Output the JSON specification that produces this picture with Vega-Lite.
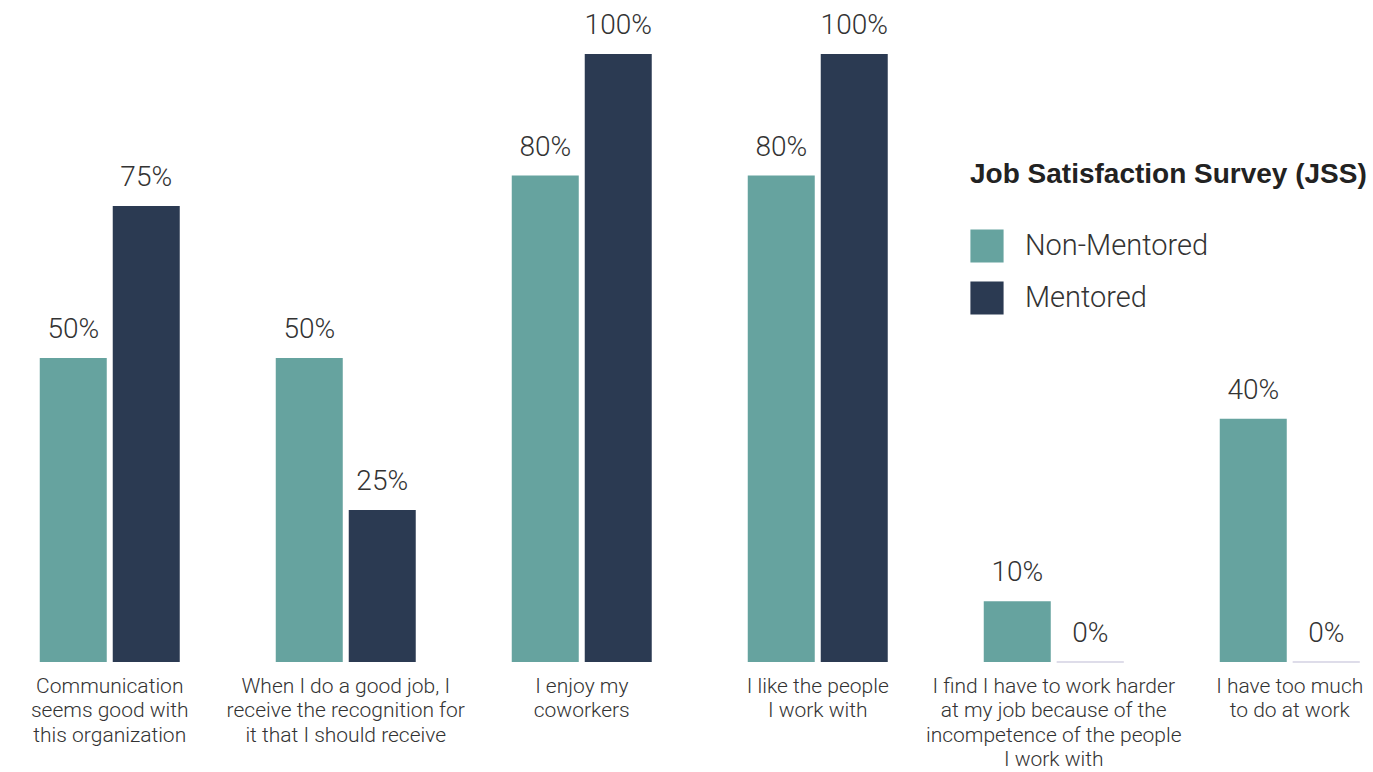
{
  "$schema": "https://vega.github.io/schema/vega-lite/v6.json",
  "width": 1373,
  "height": 608,
  "autosize": {"type": "none"},
  "padding": {"left": 0, "top": 54, "right": 0, "bottom": 110},
  "background": "#ffffff",
  "data": {
    "values": [
      {"item": "Communication|seems good with|this organization", "group": "Non-Mentored", "value": 0.5},
      {"item": "Communication|seems good with|this organization", "group": "Mentored", "value": 0.75},
      {"item": "When I do a good job, I|receive the recognition for|it that I should receive", "group": "Non-Mentored", "value": 0.5},
      {"item": "When I do a good job, I|receive the recognition for|it that I should receive", "group": "Mentored", "value": 0.25},
      {"item": "I enjoy my|coworkers", "group": "Non-Mentored", "value": 0.8},
      {"item": "I enjoy my|coworkers", "group": "Mentored", "value": 1.0},
      {"item": "I like the people|I work with", "group": "Non-Mentored", "value": 0.8},
      {"item": "I like the people|I work with", "group": "Mentored", "value": 1.0},
      {"item": "I find I have to work harder|at my job because of the|incompetence of the people|I work with", "group": "Non-Mentored", "value": 0.1},
      {"item": "I find I have to work harder|at my job because of the|incompetence of the people|I work with", "group": "Mentored", "value": 0.0},
      {"item": "I have too much|to do at work", "group": "Non-Mentored", "value": 0.4},
      {"item": "I have too much|to do at work", "group": "Mentored", "value": 0.0}
    ]
  },
  "encoding": {
    "x": {
      "field": "item",
      "type": "nominal",
      "sort": null,
      "title": null,
      "scale": {"paddingInner": 0.4068, "paddingOuter": 0.1123, "align": 0.75},
      "axis": {
        "labelExpr": "split(datum.label, '|')",
        "labelAngle": 0,
        "labelFont": "Roboto",
        "labelFontWeight": 300,
        "labelFontSize": 21,
        "labelColor": "#333333",
        "labelLineHeight": 24.5,
        "labelPadding": 13,
        "labelLimit": 400,
        "labelBaseline": "top",
        "domain": false,
        "ticks": false,
        "grid": false
      }
    },
    "xOffset": {
      "field": "group",
      "type": "nominal",
      "sort": ["Non-Mentored", "Mentored"],
      "scale": {"paddingInner": 0.082, "paddingOuter": 0}
    },
    "y": {
      "field": "value",
      "type": "quantitative",
      "scale": {"domain": [0, 1], "nice": false},
      "axis": null
    }
  },
  "layer": [
    {
      "mark": {"type": "bar"},
      "encoding": {
        "color": {
          "field": "group",
          "type": "nominal",
          "sort": ["Non-Mentored", "Mentored"],
          "scale": {"domain": ["Non-Mentored", "Mentored"], "range": ["#66a39f", "#2b3a52"]},
          "title": "Job Satisfaction Survey (JSS)",
          "legend": {
            "orient": "none",
            "legendX": 970,
            "legendY": 107,
            "titleFont": "Liberation Sans",
            "titleFontWeight": "bold",
            "titleFontSize": 28,
            "titleColor": "#222222",
            "titleLimit": 1000,
            "titlePadding": 40,
            "labelFont": "Roboto",
            "labelFontWeight": 300,
            "labelFontSize": 29,
            "labelColor": "#333333",
            "labelOffset": 21,
            "labelLimit": 400,
            "symbolType": "square",
            "symbolSize": 1100,
            "symbolStrokeWidth": 0,
            "symbolOpacity": 1,
            "rowPadding": 18
          }
        },
        "stroke": {
          "condition": {"test": "datum.value == 0", "value": "#d3d1e2"},
          "value": null
        },
        "strokeWidth": {"value": 1}
      }
    },
    {
      "mark": {
        "type": "text",
        "baseline": "alphabetic",
        "align": "center",
        "dy": -20,
        "font": "Roboto",
        "fontWeight": 300,
        "fontSize": 28,
        "color": "#333333"
      },
      "encoding": {
        "text": {"field": "value", "type": "quantitative", "format": ".0%"}
      }
    }
  ],
  "config": {
    "view": {"stroke": null}
  }
}
